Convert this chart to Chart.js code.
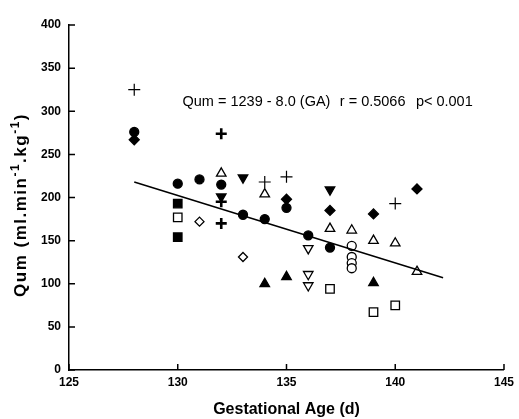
<!DOCTYPE html>
<html>
<head>
<meta charset="utf-8">
<script src="https://cdn.jsdelivr.net/npm/chart.js@4"></script>
<style>
  html, body { margin: 0; padding: 0; background: #fff; }
  #wrap { width: 519px; height: 419px; }
</style>
</head>
<body>
<div id="wrap"><canvas id="qumChart" width="519" height="419"></canvas></div>
<script>
// Axis ticks
const xTicks = [125, 130, 135, 140, 145];
const yTicks = [0, 50, 100, 150, 200, 250, 300, 350, 400];

// Data per marker type (gestational age in days, Qum)
const filledCircle = [[128, 276], [130, 216], [131, 221], [132, 215], [133, 180], [134, 175], [135, 188], [136, 156], [137, 142]];
const filledDiamond = [[128, 267], [135, 198], [137, 185], [139, 181], [141, 210]];
const thinPlus = [[128, 325], [134, 218], [135, 224], [140, 193]];
const boldPlus = [[132, 274], [132, 195], [132, 170]];
const openTriangle = [[132, 228], [134, 204], [137, 164], [138, 162], [139, 150], [140, 147], [141, 114]];
const filledDown = [[133, 223], [132, 201], [137, 209]];
const openDown = [[136, 141], [136, 111], [136, 98]];
const filledTriangle = [[134, 100], [135, 108], [139, 101]];
const filledSquare = [[130, 193], [130, 154]];
const openSquare = [[130, 177], [137, 94], [139, 67], [140, 75]];
const openDiamond = [[131, 172], [133, 131]];
const openCircle = [[138, 144], [138, 131], [138, 124], [138, 118]];

// Regression line end points
const fitLine = [[128, 218], [142.2, 107]];

const toXY = arr => arr.map(p => ({ x: p[0], y: p[1] }));
const FONT = '"Liberation Sans", Arial, sans-serif';

function marker(data, style, filled, radius, extra) {
  return Object.assign({
    data: toXY(data),
    pointStyle: style,
    pointRadius: radius,
    pointHoverRadius: radius,
    pointBackgroundColor: filled ? '#000' : '#fff',
    pointBorderColor: '#000',
    pointBorderWidth: 1.3
  }, extra || {});
}

// inward tick marks, regression text and the y title with superscripts
const decorations = {
  id: 'decorations',
  afterDraw(chart) {
    const ctx = chart.ctx;
    const xs = chart.scales.x, ys = chart.scales.y;
    ctx.save();
    ctx.strokeStyle = '#000';
    ctx.lineWidth = 1.5;
    ctx.beginPath();
    xTicks.forEach(v => {
      const px = xs.getPixelForValue(v);
      ctx.moveTo(px, ys.bottom);
      ctx.lineTo(px, ys.bottom - 6);
    });
    yTicks.forEach(v => {
      const py = ys.getPixelForValue(v);
      ctx.moveTo(xs.left, py);
      ctx.lineTo(xs.left + 6, py);
    });
    ctx.stroke();

    ctx.fillStyle = '#000';
    ctx.font = '14.5px ' + FONT;
    ctx.textBaseline = 'middle';
    const ty = ys.getPixelForValue(311);
    ctx.fillText('Qum = 1239 - 8.0 (GA)', xs.getPixelForValue(130.22), ty);
    ctx.fillText('r = 0.5066', xs.getPixelForValue(137.45), ty);
    ctx.fillText('p< 0.001', xs.getPixelForValue(140.95), ty);

    // y axis title
    const parts = [
      ['Qum (ml.min', false], ['-1', true], ['.kg', false], ['-1', true], [')', false]
    ];
    ctx.letterSpacing = '1.5px';
    const big = 'bold 17px ' + FONT, small = 'bold 12px ' + FONT;
    let total = 0;
    parts.forEach(p => { ctx.font = p[1] ? small : big; total += ctx.measureText(p[0]).width; });
    ctx.translate(26, 205);
    ctx.rotate(-Math.PI / 2);
    ctx.textBaseline = 'alphabetic';
    let cx = -total / 2;
    parts.forEach(p => {
      ctx.font = p[1] ? small : big;
      ctx.fillText(p[0], cx, p[1] ? -7 : 0);
      cx += ctx.measureText(p[0]).width;
    });
    ctx.restore();
  }
};

const tickFont = { family: FONT, size: 12, weight: 'bold' };

new Chart(document.getElementById('qumChart'), {
  type: 'scatter',
  data: {
    datasets: [
      {
        data: toXY(fitLine),
        showLine: true,
        borderColor: '#000',
        borderWidth: 1.5,
        pointRadius: 0,
        pointHoverRadius: 0
      },
      marker(filledCircle, 'circle', true, 4.5),
      marker(filledDiamond, 'rectRot', true, 5),
      marker(thinPlus, 'cross', false, 6, { pointBorderWidth: 1.2 }),
      marker(boldPlus, 'cross', false, 5.5, { pointBorderWidth: 2.6 }),
      marker(openTriangle, 'triangle', false, 5.5),
      marker(filledDown, 'triangle', true, 5.5, { pointRotation: 180 }),
      marker(openDown, 'triangle', false, 5.5, { pointRotation: 180 }),
      marker(filledTriangle, 'triangle', true, 5.5),
      marker(filledSquare, 'rect', true, 6),
      marker(openSquare, 'rect', false, 6),
      marker(openDiamond, 'rectRot', false, 4.5),
      marker(openCircle, 'circle', false, 4.5)
    ]
  },
  options: {
    responsive: false,
    animation: false,
    layout: { padding: { top: 25, right: 10, left: 0, bottom: 0 } },
    plugins: {
      legend: { display: false },
      tooltip: { enabled: false }
    },
    scales: {
      x: {
        type: 'linear',
        min: 125,
        max: 145,
        afterFit(scale) { scale.height = 49; },
        afterBuildTicks(scale) { scale.ticks = xTicks.map(v => ({ value: v })); },
        grid: { display: false, drawTicks: false },
        border: { display: true, color: '#000', width: 1.5 },
        ticks: { color: '#000', font: tickFont, padding: 5 },
        title: {
          display: true,
          text: 'Gestational Age (d)',
          color: '#000',
          font: { family: FONT, size: 16, weight: 'bold' },
          padding: { top: 4, bottom: 0 }
        }
      },
      y: {
        type: 'linear',
        min: 0,
        max: 400,
        afterFit(scale) { scale.width = 69; },
        afterBuildTicks(scale) { scale.ticks = yTicks.map(v => ({ value: v })); },
        grid: { display: false, drawTicks: false },
        border: { display: true, color: '#000', width: 1.5 },
        ticks: { color: '#000', font: tickFont, padding: 8 },
        title: { display: false }
      }
    }
  },
  plugins: [decorations]
});
</script>
</body>
</html>
